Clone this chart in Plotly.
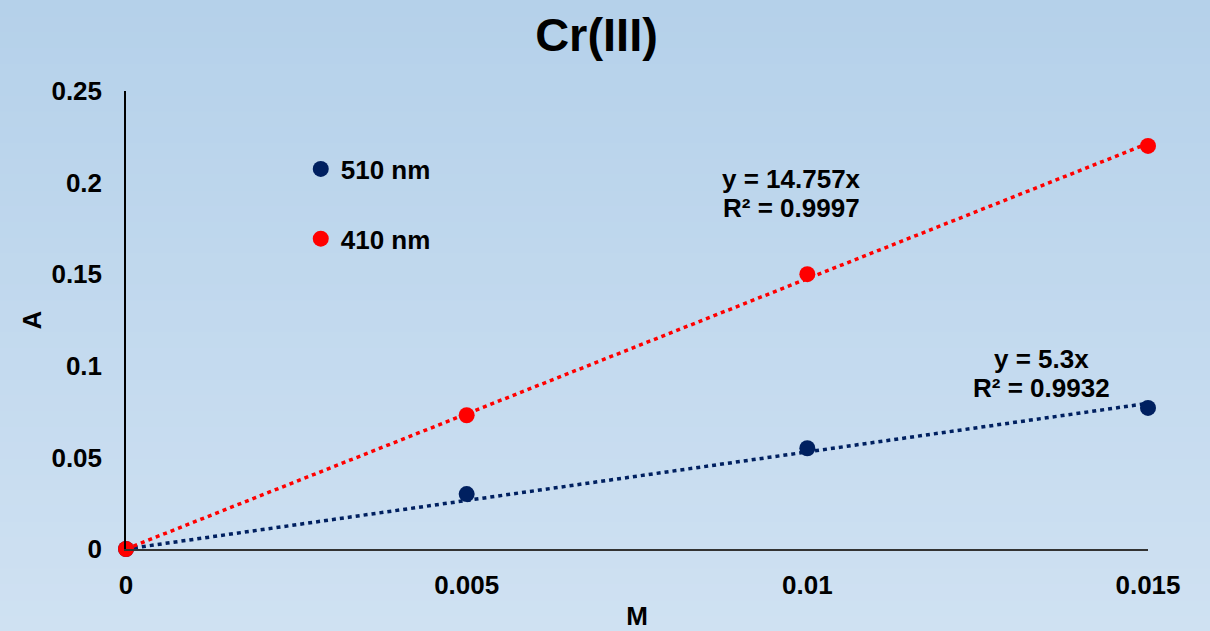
import plotly.graph_objects as go

# concentration (M) and absorbance readings
conc = [0, 0.005, 0.01, 0.015]
abs_510 = [0, 0.030, 0.055, 0.077]
abs_410 = [0, 0.073, 0.150, 0.220]

# linear fits forced through origin (from the chart labels)
fit_x = [0, 0.015]
slope_510, r2_510 = 5.3, 0.9932
slope_410, r2_410 = 14.757, 0.9997

navy = "#002060"
red = "#FF0000"
font_main = "Liberation Sans"

fig = go.Figure()

# fitted lines
fig.add_trace(go.Scatter(x=fit_x, y=[slope_510 * v for v in fit_x], mode="lines",
                         line=dict(color=navy, width=3.5, dash="4px,4px"),
                         showlegend=False, hoverinfo="skip"))
fig.add_trace(go.Scatter(x=fit_x, y=[slope_410 * v for v in fit_x], mode="lines",
                         line=dict(color=red, width=3.5, dash="4px,4px"),
                         showlegend=False, hoverinfo="skip"))

# measured points
fig.add_trace(go.Scatter(x=conc, y=abs_510, mode="markers", name="510 nm",
                         legendgroup="a", marker=dict(color=navy, size=16),
                         cliponaxis=False))
fig.add_trace(go.Scatter(x=conc, y=abs_410, mode="markers", name="410 nm",
                         legendgroup="b", marker=dict(color=red, size=16),
                         cliponaxis=False))

# equation labels, one line each
lbl_font = dict(family=font_main, size=26, color="black", weight="bold")
for x, y, txt in [
    (0.00977, 0.2020, f"y = {slope_410}x"),
    (0.00977, 0.1861, f"R² = {r2_410}"),
    (0.01343, 0.1037, f"y = {slope_510}x"),
    (0.01343, 0.0879, f"R² = {r2_510}"),
]:
    fig.add_annotation(x=x, y=y, xref="x", yref="y", showarrow=False,
                       text=txt, font=lbl_font)

# soft vertical gradient background
top = (181, 209, 234)
bot = (207, 225, 242)
n = 40
y0, y1 = -82 / 458, 1 + 91 / 458
for i in range(n):
    t = i / (n - 1)
    c = tuple(round(bot[k] + (top[k] - bot[k]) * t) for k in range(3))
    fig.add_shape(type="rect", xref="paper", yref="paper", layer="below",
                  x0=-0.2, x1=1.2,
                  y0=y0 + (y1 - y0) * i / n - 0.002, y1=y0 + (y1 - y0) * (i + 1) / n + 0.002,
                  line=dict(width=0), fillcolor=f"rgb{c}")

fig.update_layout(
    width=1210, height=631,
    margin=dict(l=126, r=62, t=91, b=82),
    paper_bgcolor="rgb(207,225,242)",
    plot_bgcolor="rgba(0,0,0,0)",
    font=dict(family=font_main, size=26, color="black"),
    title=dict(text="<b>Cr(III)</b>", x=0.493, xanchor="center", y=0.945, yanchor="middle",
               font=dict(size=47, family=font_main, color="black")),
    legend=dict(x=0.171, y=0.881, xanchor="left", yanchor="top",
                bgcolor="rgba(0,0,0,0)", tracegroupgap=33,
                font=dict(size=26, family=font_main, weight="bold")),
    xaxis=dict(range=[0, 0.015], tickvals=[0, 0.005, 0.01, 0.015],
               ticktext=["0", "0.005", "0.01", "0.015"],
               showgrid=False, zeroline=False, showline=True, linecolor="#333333",
               linewidth=2, ticks="", ticklabelstandoff=12, automargin=False,
               tickfont=dict(size=26, weight="bold"),
               title=dict(text="<b>M</b>", standoff=18, font=dict(size=26))),
    yaxis=dict(range=[0, 0.25], tickvals=[0, 0.05, 0.1, 0.15, 0.2, 0.25],
               ticktext=["0", "0.05", "0.1", "0.15", "0.2", "0.25"],
               showgrid=False, zeroline=False, showline=True, linecolor="black",
               linewidth=1.5, ticks="", ticklabelstandoff=17, automargin=False,
               tickfont=dict(size=26, weight="bold"),
               title=dict(text="<b>A</b>", standoff=2, font=dict(size=26))),
)

fig.write_html("out.html", config={"displayModeBar": False},
               post_script="document.documentElement.style.overflow='hidden';"
                           "document.body.style.margin='0';"
                           "document.body.style.overflow='hidden';")
